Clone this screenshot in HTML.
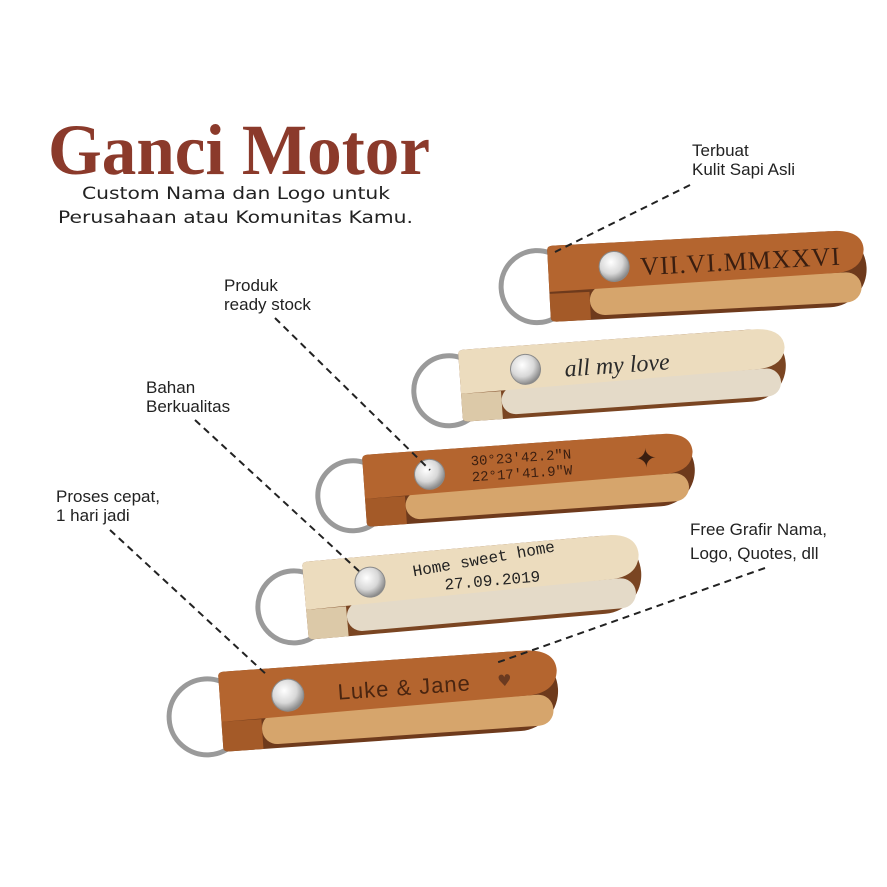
<!DOCTYPE html>
<html><head><meta charset="utf-8"><style>
html,body{margin:0;padding:0;background:#fff;}
svg{display:block}
</style></head><body>
<svg width="887" height="887" viewBox="0 0 887 887" xmlns="http://www.w3.org/2000/svg">
<defs>
<radialGradient id="rv" cx="40%" cy="35%" r="65%"><stop offset="0" stop-color="#ffffff"/><stop offset="0.6" stop-color="#d8d8d8"/><stop offset="1" stop-color="#8a8a8a"/></radialGradient>
</defs>
<rect width="887" height="887" fill="#fff"/>
<text x="48" y="174" font-family="Liberation Serif, serif" font-weight="bold" font-size="72" fill="#8b3a2b" textLength="382" lengthAdjust="spacingAndGlyphs">Ganci Motor</text>
<text x="82" y="199" font-family="DejaVu Sans, sans-serif" font-size="16.5" fill="#222" textLength="308" lengthAdjust="spacingAndGlyphs">Custom Nama dan Logo untuk</text>
<text x="58" y="223" font-family="DejaVu Sans, sans-serif" font-size="16.5" fill="#222" textLength="355" lengthAdjust="spacingAndGlyphs">Perusahaan atau Komunitas Kamu.</text>

<!-- keychain 1 -->
<g transform="translate(547,246) rotate(-3)">
<circle cx="-12" cy="40" r="36" fill="none" stroke="#9a9a9a" stroke-width="5"/>
<path d="M0,4 Q0,0 6,0 L280,0 A38,38 0 0 1 280,76 L6,76 Q0,76 0,72 Z" fill="#6e3a1c"/>
<path d="M0,48 L0,72 Q0,76 6,76 L40,76 L40,48 Z" fill="#a45a28"/>
<rect x="40" y="42" width="272" height="30" rx="15" fill="#d6a56c"/>
<path d="M0,4 Q0,0 6,0 L290,0 Q316,2 316,20 Q314,40 290,42 L0,46 Z" fill="#b4652f"/>
<circle cx="66" cy="24" r="15" fill="url(#rv)" stroke="#8a8a8a"/>
<text x="92" y="34" font-family="Liberation Serif, serif" font-size="26" fill="#3a1e10" letter-spacing="1">VII.VI.MMXXVI</text>
</g>

<!-- keychain 2 -->
<g transform="translate(458,350) rotate(-4)">
<circle cx="-12" cy="40" r="35" fill="none" stroke="#9a9a9a" stroke-width="5"/>
<path d="M0,4 Q0,0 6,0 L290,0 A36,36 0 0 1 290,72 L6,72 Q0,72 0,68 Z" fill="#7a4522"/>
<path d="M0,44 L0,68 Q0,72 6,72 L40,72 L40,44 Z" fill="#dcc9a8"/>
<rect x="40" y="40" width="280" height="28" rx="14" fill="#e4dac8"/>
<path d="M0,4 Q0,0 6,0 L300,0 Q326,2 326,20 Q324,38 300,40 L0,44 Z" fill="#ecdcbe"/>
<circle cx="66" cy="24" r="15" fill="url(#rv)" stroke="#8a8a8a"/>
<text x="105" y="34" font-family="Liberation Serif, serif" font-style="italic" font-size="24" fill="#2a2a2a">all my love</text>
</g>

<!-- keychain 3 -->
<g transform="translate(362,455) rotate(-4)">
<circle cx="-12" cy="40" r="35" fill="none" stroke="#9a9a9a" stroke-width="5"/>
<path d="M0,4 Q0,0 6,0 L295,0 A36,36 0 0 1 295,72 L6,72 Q0,72 0,68 Z" fill="#6e3a1c"/>
<path d="M0,44 L0,68 Q0,72 6,72 L40,72 L40,44 Z" fill="#a45a28"/>
<rect x="40" y="40" width="284" height="28" rx="14" fill="#d6a56c"/>
<path d="M0,4 Q0,0 6,0 L305,0 Q330,2 330,20 Q328,38 305,40 L0,44 Z" fill="#b4652f"/>
<circle cx="66" cy="24" r="15" fill="url(#rv)" stroke="#8a8a8a"/>
<text x="108" y="18" font-family="Liberation Mono, monospace" font-size="14" fill="#3a1e10">30°23'42.2"N</text>
<text x="108" y="34" font-family="Liberation Mono, monospace" font-size="14" fill="#3a1e10">22°17'41.9"W</text>
<text x="272" y="32" font-family="DejaVu Sans, sans-serif" font-size="26" fill="#3a1e10">✦</text>
</g>

<!-- keychain 4 -->
<g transform="translate(302,562) rotate(-5)">
<circle cx="-12" cy="44" r="36" fill="none" stroke="#9a9a9a" stroke-width="5"/>
<path d="M0,4 Q0,0 6,0 L298,0 A39,39 0 0 1 298,78 L6,78 Q0,78 0,74 Z" fill="#7a4522"/>
<path d="M0,48 L0,74 Q0,78 6,78 L40,78 L40,48 Z" fill="#dcc9a8"/>
<rect x="40" y="44" width="290" height="30" rx="15" fill="#e4dac8"/>
<path d="M0,4 Q0,0 6,0 L310,0 Q336,2 336,22 Q334,42 310,44 L0,48 Z" fill="#ecdcbe"/>
<circle cx="66" cy="26" r="15" fill="url(#rv)" stroke="#8a8a8a"/>
<text x="110" y="24" font-family="Liberation Mono, monospace" font-size="16" fill="#222" transform="rotate(-5 110 24)">Home sweet home</text>
<text x="140" y="40" font-family="Liberation Mono, monospace" font-size="16" fill="#222">27.09.2019</text>
</g>

<!-- keychain 5 -->
<g transform="translate(218,672) rotate(-4)">
<circle cx="-14" cy="44" r="38" fill="none" stroke="#9a9a9a" stroke-width="5"/>
<path d="M0,4 Q0,0 6,0 L298,0 A40,40 0 0 1 298,80 L6,80 Q0,80 0,76 Z" fill="#6e3a1c"/>
<path d="M0,50 L0,76 Q0,80 6,80 L40,80 L40,50 Z" fill="#a45a28"/>
<rect x="40" y="45" width="292" height="31" rx="15" fill="#d6a56c"/>
<path d="M0,4 Q0,0 6,0 L310,0 Q338,2 338,22 Q336,43 310,45 L0,50 Z" fill="#b4652f"/>
<circle cx="68" cy="28" r="16" fill="url(#rv)" stroke="#8a8a8a"/>
<text x="118" y="36" font-family="Liberation Sans, sans-serif" font-size="22" fill="#4a2510" letter-spacing="1">Luke &amp; Jane</text>
<text x="278" y="34" font-family="DejaVu Sans, sans-serif" font-size="16" fill="#6b3a20">♥</text>
</g>

<!-- dashed lines -->
<g stroke="#222" stroke-width="2" stroke-dasharray="7,5" fill="none">
<line x1="690" y1="185" x2="555" y2="252"/>
<line x1="275" y1="318" x2="430" y2="470"/>
<line x1="195" y1="420" x2="360" y2="572"/>
<line x1="110" y1="530" x2="268" y2="676"/>
<line x1="765" y1="568" x2="496" y2="663"/>
</g>

<g font-family="Liberation Sans, sans-serif" font-size="17" fill="#222">
<text x="692" y="156">Terbuat</text>
<text x="692" y="175">Kulit Sapi Asli</text>
<text x="224" y="291">Produk</text>
<text x="224" y="310">ready stock</text>
<text x="146" y="393">Bahan</text>
<text x="146" y="412">Berkualitas</text>
<text x="56" y="502">Proses cepat,</text>
<text x="56" y="521">1 hari jadi</text>
<text x="690" y="535">Free Grafir Nama,</text>
<text x="690" y="559">Logo, Quotes, dll</text>
</g>
</svg>
</body></html>
